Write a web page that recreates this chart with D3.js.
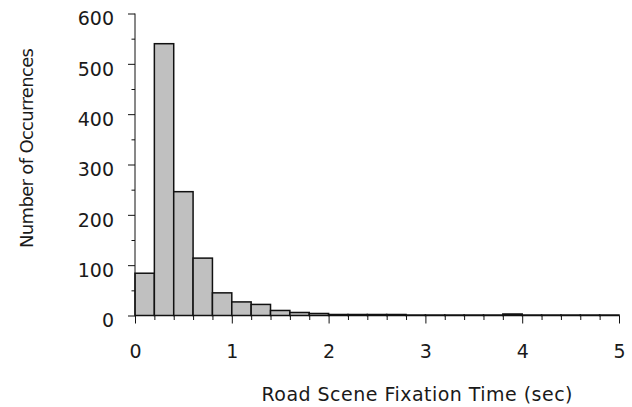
<!DOCTYPE html>
<html>
<head>
<meta charset="utf-8">
<script src="https://cdn.jsdelivr.net/npm/d3@7"></script>
<style>
  body { margin: 0; background: #fff; }
  text { font-family: "DejaVu Sans", sans-serif; fill: #1a1a1a; }
</style>
</head>
<body>
<div id="chart"></div>
<script>
// histogram bins, 0.2 sec wide
var binStarts = d3.range(0, 5, 0.2).map(function (d) { return +d.toFixed(1); });
var counts = [84, 540, 246, 114, 45, 27, 22, 10, 6, 4,
              2, 2, 2, 2, 1, 1, 1, 1, 1, 3,
              1, 1, 1, 1, 1];
var xTicks = [0, 1, 2, 3, 4, 5];
var yTicks = [0, 100, 200, 300, 400, 500, 600];

var width = 632, height = 407;
var margin = { top: 13.5, right: 13, bottom: 91.5, left: 135 };
var binWidth = 0.2;

var svg = d3.select("#chart")
  .append("svg")
  .attr("width", width)
  .attr("height", height);

var x = d3.scaleLinear().domain([0, 5]).range([margin.left, width - margin.right]);
var y = d3.scaleLinear().domain([0, 600]).range([height - margin.bottom, margin.top]);

// bars
svg.append("g")
  .selectAll("rect")
  .data(counts)
  .enter()
  .append("rect")
  .attr("x", function (d, i) { return x(binStarts[i]); })
  .attr("y", function (d) { return y(d); })
  .attr("width", function (d, i) { return x(binStarts[i] + binWidth) - x(binStarts[i]); })
  .attr("height", function (d) { return y(0) - y(d); })
  .attr("fill", "#c0c0c0")
  .attr("stroke", "#111")
  .attr("stroke-width", 1.5);

// y axis, major + minor ticks
var yAxis = svg.append("g").attr("transform", "translate(" + x(0) + ",0)");
yAxis.append("g")
  .call(d3.axisLeft(y).tickValues(d3.range(50, 600, 100)).tickSize(3.5).tickFormat(""))
  .call(function (g) { g.select(".domain").remove(); });
yAxis.append("g")
  .call(d3.axisLeft(y).tickValues(yTicks).tickSize(7).tickPadding(14))
  .call(function (g) {
    g.select(".domain").attr("d", "M0," + y(600) + "V" + y(0));
    g.selectAll("text").attr("font-size", 19).attr("dy", "0.6em");
  });

// x axis, major + minor ticks
var xAxis = svg.append("g").attr("transform", "translate(0," + y(0) + ")");
xAxis.append("g")
  .call(d3.axisBottom(x).tickValues(binStarts.filter(function (d) { return d % 1 !== 0; })).tickSize(4.5).tickFormat(""))
  .call(function (g) { g.select(".domain").remove(); });
xAxis.append("g")
  .call(d3.axisBottom(x).tickValues(xTicks).tickSize(8).tickPadding(21).tickFormat(d3.format("d")))
  .call(function (g) {
    g.select(".domain").attr("d", "M" + x(0) + ",0H" + x(5));
    g.selectAll("text").attr("font-size", 19);
  });

svg.selectAll(".domain, .tick line").attr("stroke", "#111");

// axis titles
svg.append("text")
  .attr("x", 417)
  .attr("y", 401)
  .attr("text-anchor", "middle")
  .attr("font-size", 19)
  .attr("textLength", 311)
  .attr("lengthAdjust", "spacing")
  .text("Road Scene Fixation Time (sec)");

svg.append("text")
  .attr("transform", "translate(33,148) rotate(-90)")
  .attr("text-anchor", "middle")
  .attr("font-size", 18)
  .attr("textLength", 200)
  .attr("lengthAdjust", "spacing")
  .text("Number of Occurrences");
</script>
</body>
</html>
